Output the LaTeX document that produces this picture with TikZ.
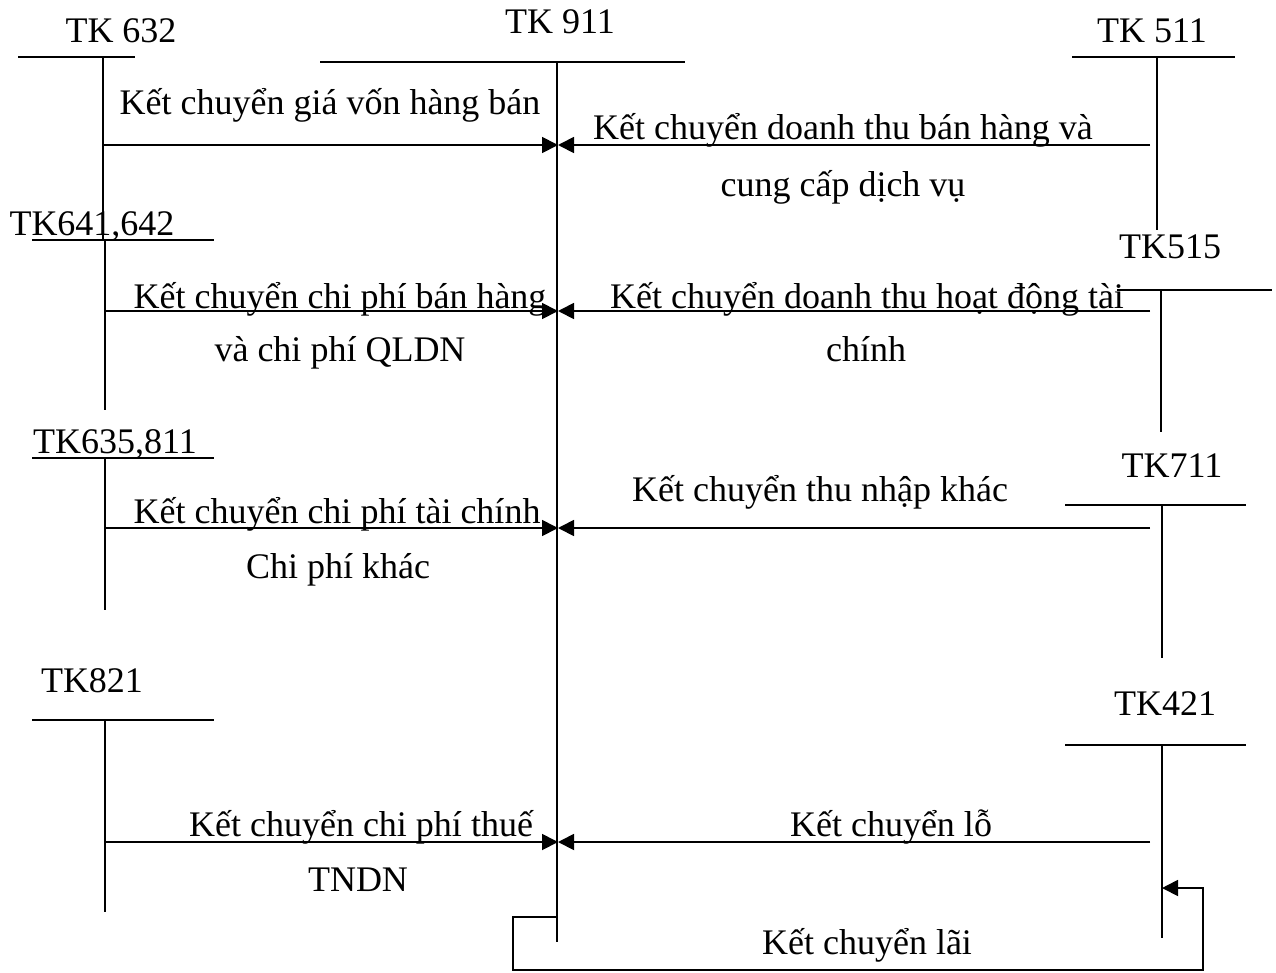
\documentclass[tikz,border=0pt]{standalone}
\usepackage{fontspec}
\setmainfont{Liberation Serif}
\usetikzlibrary{arrows.meta}
\begin{document}
\begin{tikzpicture}[x=1pt,y=-1pt,
  ln/.style={line width=1.8pt},
  arr/.style={line width=1.8pt,-{Triangle[length=16pt,width=16pt]}},
  lbl/.style={inner sep=0pt,anchor=base,font=\fontsize{36}{43}\selectfont}]
\useasboundingbox (0,0) rectangle (1276,972);
% T-account heads (labels)
\node[lbl] (t632) at (121,42) {TK 632};
\node[lbl] (t911) at (560,33) {TK 911};
\node[lbl] (t511) at (1152,42) {TK 511};
\node[lbl] (t641) at (92,235) {TK641,642};
\node[lbl] (t515) at (1170,258) {TK515};
\node[lbl] (t635) at (115,453) {TK635,811};
\node[lbl] (t711) at (1172,477) {TK711};
\node[lbl] (t821) at (92,692) {TK821};
\node[lbl] (t421) at (1165,715) {TK421};
% T shapes
\draw[ln] (18,57) -- (135,57);
\draw[ln] (103,57) -- (103,240);
\draw[ln] (32,240) -- (214,240);
\draw[ln] (105,240) -- (105,410);
\draw[ln] (32,458) -- (214,458);
\draw[ln] (105,458) -- (105,610);
\draw[ln] (32,720) -- (214,720);
\draw[ln] (105,720) -- (105,912);
\draw[ln] (320,62) -- (685,62);
\draw[ln] (557,62) -- (557,942);
\draw[ln] (1072,57) -- (1235,57);
\draw[ln] (1157,57) -- (1157,230);
\draw[ln] (1117,290) -- (1272,290);
\draw[ln] (1161,290) -- (1161,432);
\draw[ln] (1065,505) -- (1246,505);
\draw[ln] (1162,505) -- (1162,658);
\draw[ln] (1065,745) -- (1246,745);
\draw[ln] (1162,745) -- (1162,938);
% connector coordinates
\coordinate (a1) at (103,145); \coordinate (m1) at (558,145); \coordinate (r1) at (1150,145);
\coordinate (a2) at (105,311); \coordinate (m2) at (558,311); \coordinate (r2) at (1150,311);
\coordinate (a3) at (105,528); \coordinate (m3) at (558,528); \coordinate (r3) at (1150,528);
\coordinate (a4) at (105,842); \coordinate (m4) at (558,842); \coordinate (r4) at (1150,842);
\coordinate (l0) at (557,917); \coordinate (l1) at (513,917); \coordinate (l2) at (513,970);
\coordinate (l3) at (1203,970); \coordinate (l4) at (1203,888); \coordinate (l5) at (1162,888);
\draw[arr] (a1) -- (m1);
\draw[arr] (r1) -- (m1);
\draw[arr] (a2) -- (m2);
\draw[arr] (r2) -- (m2);
\draw[arr] (a3) -- (m3);
\draw[arr] (r3) -- (m3);
\draw[arr] (a4) -- (m4);
\draw[arr] (r4) -- (m4);
\draw[arr] (l0) -- (l1) -- (l2) -- (l3) -- (l4) -- (l5);
% labels
\node[lbl] (k1) at (330,114) {Kết chuyển giá vốn hàng bán};
\node[lbl] (k2) at (843,139) {Kết chuyển doanh thu bán hàng và};
\node[lbl] (k2b) at (843,196) {cung cấp dịch vụ};
\node[lbl] (k3) at (340,308) {Kết chuyển chi phí bán hàng};
\node[lbl] (k3b) at (340,361) {và chi phí QLDN};
\node[lbl] (k4) at (867,308) {Kết chuyển doanh thu hoạt động tài};
\node[lbl] (k4b) at (866,361) {chính};
\node[lbl] (k5) at (337,523) {Kết chuyển chi phí tài chính};
\node[lbl] (k5b) at (338,578) {Chi phí khác};
\node[lbl] (k6) at (820,501) {Kết chuyển thu nhập khác};
\node[lbl] (k7) at (361,836) {Kết chuyển chi phí thuế};
\node[lbl] (k7b) at (358,891) {TNDN};
\node[lbl] (k8) at (891,836) {Kết chuyển lỗ};
\node[lbl] (k9) at (867,954) {Kết chuyển lãi};
\end{tikzpicture}
\end{document}
